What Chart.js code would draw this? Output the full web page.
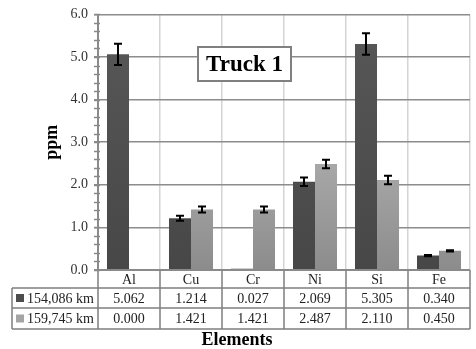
<!DOCTYPE html>
<html>
<head>
<meta charset="utf-8">
<script src="https://cdn.jsdelivr.net/npm/chart.js@4/dist/chart.umd.min.js"></script>
<style>
html,body{margin:0;padding:0;background:#fff;}
#wrap{width:476px;height:349px;position:relative;}
</style>
</head>
<body>
<div id="wrap"><canvas id="c" width="476" height="349"></canvas></div>
<script>
const categories = ['Al', 'Cu', 'Cr', 'Ni', 'Si', 'Fe'];
const seriesNames = ['154,086 km', '159,745 km'];
const values1 = [5.062, 1.214, 0.027, 2.069, 5.305, 0.340];
const values2 = [0.000, 1.421, 1.421, 2.487, 2.110, 0.450];
const errors1 = [0.25, 0.06, 0.0, 0.10, 0.25, 0.015];
const errors2 = [0.0, 0.07, 0.07, 0.10, 0.10, 0.015];
const yTicks = [0, 1, 2, 3, 4, 5, 6];
const chartTitle = 'Truck 1';
const yTitle = 'ppm';
const xTitle = 'Elements';

const SERIF = '"Liberation Serif", "Times New Roman", serif';

function darkFill(ctx) {
  const ca = ctx.chart.chartArea;
  if (!ca) return '#505050';
  const g = ctx.chart.ctx.createLinearGradient(0, ca.top, 0, ca.bottom);
  g.addColorStop(0, '#585858');
  g.addColorStop(1, '#474747');
  return g;
}
function lightFill(ctx) {
  const ca = ctx.chart.chartArea;
  if (!ca) return '#a0a0a0';
  const g = ctx.chart.ctx.createLinearGradient(0, ca.bottom - 120, 0, ca.bottom);
  g.addColorStop(0, '#ababab');
  g.addColorStop(1, '#8c8c8c');
  return g;
}

const errorBars = {
  id: 'errorBars',
  afterDatasetsDraw(chart) {
    const ctx = chart.ctx;
    const y = chart.scales.y;
    const errs = [errors1, errors2];
    const vals = [values1, values2];
    ctx.save();
    ctx.strokeStyle = '#000';
    ctx.lineWidth = 2;
    for (let d = 0; d < 2; d++) {
      const meta = chart.getDatasetMeta(d);
      meta.data.forEach((bar, i) => {
        const e = errs[d][i];
        if (!e) return;
        const x = bar.x;
        const yt = y.getPixelForValue(vals[d][i] + e);
        const yb = y.getPixelForValue(vals[d][i] - e);
        ctx.beginPath();
        ctx.moveTo(x, yt); ctx.lineTo(x, yb);
        ctx.moveTo(x - 4, yt); ctx.lineTo(x + 4, yt);
        ctx.moveTo(x - 4, yb); ctx.lineTo(x + 4, yb);
        ctx.stroke();
      });
    }
    ctx.restore();
  }
};

const extras = {
  id: 'extras',
  afterDraw(chart) {
    const ctx = chart.ctx;
    const ca = chart.chartArea;
    const xs = chart.scales.x;
    const ys = chart.scales.y;
    const catW = (ca.right - ca.left) / categories.length;
    ctx.save();
    // minor ticks on y axis
    ctx.strokeStyle = '#888';
    ctx.lineWidth = 1.5;
    for (let v = 0; v <= 6.001; v += 0.2) {
      const py = Math.round(ys.getPixelForValue(v)) + 0.5;
      ctx.beginPath();
      ctx.moveTo(ca.left - 4, py); ctx.lineTo(ca.left + 2, py);
      ctx.stroke();
    }
    // axis line
    ctx.strokeStyle = '#8a8a8a';
    ctx.lineWidth = 2;
    ctx.beginPath();
    ctx.moveTo(ca.left, ca.top); ctx.lineTo(ca.left, ca.bottom);
    ctx.stroke();

    // data table
    const r0 = ca.bottom, r1 = ca.bottom + 18, r2 = ca.bottom + 38, r3 = ca.bottom + 59;
    const tLeft = 12;
    ctx.strokeStyle = '#7f7f7f';
    ctx.lineWidth = 1.5;
    ctx.beginPath();
    ctx.moveTo(tLeft, r1); ctx.lineTo(ca.right, r1);
    ctx.moveTo(tLeft, r2); ctx.lineTo(ca.right, r2);
    ctx.moveTo(tLeft, r3); ctx.lineTo(ca.right, r3);
    ctx.moveTo(tLeft, r1); ctx.lineTo(tLeft, r3);
    for (let i = 0; i <= categories.length; i++) {
      const px = ca.left + i * catW;
      ctx.moveTo(px, r0); ctx.lineTo(px, r3);
    }
    ctx.stroke();
    ctx.strokeStyle = '#8a8a8a';
    ctx.lineWidth = 2;
    ctx.beginPath();
    ctx.moveTo(ca.left - 4, r0); ctx.lineTo(ca.right, r0);
    ctx.stroke();

    ctx.fillStyle = '#222';
    ctx.font = '14px ' + SERIF;
    ctx.textAlign = 'center';
    ctx.textBaseline = 'middle';
    const rowVals = [values1, values2];
    const rowMid = [(r1 + r2) / 2 + 1, (r2 + r3) / 2 + 1];
    for (let r = 0; r < 2; r++) {
      for (let i = 0; i < categories.length; i++) {
        const px = xs.getPixelForValue(i);
        ctx.fillText(rowVals[r][i].toFixed(3), px, rowMid[r]);
      }
    }
    ctx.textAlign = 'left';
    for (let r = 0; r < 2; r++) {
      const ky = rowMid[r] - 1;
      ctx.fillStyle = r === 0 ? '#4d4d4d' : '#a5a5a5';
      ctx.fillRect(16, ky - 4, 8, 8);
      ctx.fillStyle = '#222';
      ctx.fillText(seriesNames[r], 27, rowMid[r]);
    }

    // x axis title
    ctx.fillStyle = '#000';
    ctx.font = 'bold 18px ' + SERIF;
    ctx.textAlign = 'center';
    ctx.fillText(xTitle, 237, 340);

    // title box
    const bx = 198, by = 47, bw = 93, bh = 34;
    ctx.fillStyle = '#fff';
    ctx.fillRect(bx, by, bw, bh);
    ctx.strokeStyle = '#808080';
    ctx.lineWidth = 2;
    ctx.strokeRect(bx, by, bw, bh);
    ctx.fillStyle = '#000';
    ctx.font = 'bold 23px ' + SERIF;
    ctx.fillText(chartTitle, bx + bw / 2, by + bh / 2 + 1);
    ctx.restore();
  }
};

new Chart(document.getElementById('c'), {
  type: 'bar',
  data: {
    labels: categories,
    datasets: [
      { label: seriesNames[0], data: values1, backgroundColor: darkFill, borderWidth: 0, minBarLength: 1 },
      { label: seriesNames[1], data: values2, backgroundColor: lightFill, borderWidth: 0 }
    ]
  },
  options: {
    responsive: false,
    animation: false,
    devicePixelRatio: 1,
    layout: { padding: { left: 0, right: 6, top: 11, bottom: 0 } },
    datasets: { bar: { categoryPercentage: 0.71, barPercentage: 1.0 } },
    plugins: { legend: { display: false }, tooltip: { enabled: false } },
    scales: {
      x: {
        grid: { display: true, offset: true, color: '#d4d4d4', lineWidth: 1.5, drawTicks: false },
        border: { display: false },
        ticks: { color: '#222', font: { family: SERIF, size: 14 }, padding: 2 },
        title: { display: false, text: xTitle },
        afterFit(scale) { scale.height = 79; }
      },
      y: {
        min: 0, max: 6,
        afterBuildTicks(scale) { scale.ticks = yTicks.map(v => ({ value: v })); },
        grid: { color: '#8c8c8c', lineWidth: 1.5, drawTicks: true, tickLength: 4 },
        border: { display: false },
        ticks: { color: '#333', font: { family: SERIF, size: 14 }, padding: 6, callback: v => Number(v).toFixed(1) },
        title: { display: true, text: yTitle, color: '#000', font: { family: SERIF, size: 18, weight: 'bold' }, padding: { top: 42, bottom: 0 } },
        afterFit(scale) { scale.width = 98; }
      }
    }
  },
  plugins: [errorBars, extras]
});
</script>
</body>
</html>
